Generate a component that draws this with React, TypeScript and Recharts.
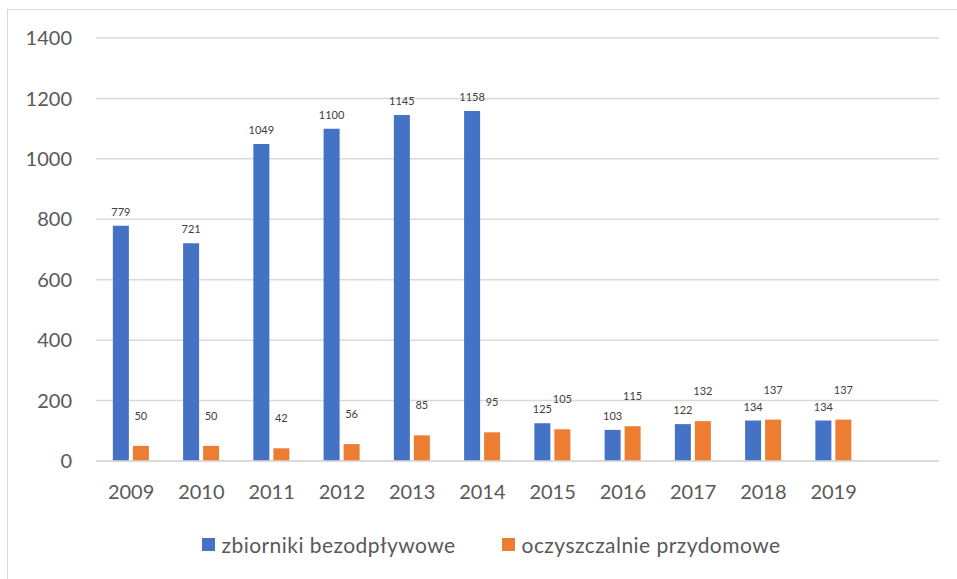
import { BarChart, Bar, XAxis, YAxis, CartesianGrid, Legend, LabelList } from "recharts";

const years = ["2009", "2010", "2011", "2012", "2013", "2014", "2015", "2016", "2017", "2018", "2019", ""];
const zbiorniki = [779, 721, 1049, 1100, 1145, 1158, 125, 103, 122, 134, 134, null];
const oczyszczalnie = [50, 50, 42, 56, 85, 95, 105, 115, 132, 137, 137, null];
const yTicks = [0, 200, 400, 600, 800, 1000, 1200, 1400];

const data = years.map((year, i) => ({
  year,
  zbiorniki: zbiorniki[i],
  oczyszczalnie: oczyszczalnie[i],
}));

const FONT = "Lato, 'Open Sans', sans-serif";
const BLUE = "#4472C4";
const ORANGE = "#ED7D31";

const legendItems = [
  { name: "zbiorniki bezodpływowe", color: BLUE },
  { name: "oczyszczalnie przydomowe", color: ORANGE },
];

const CustomLegend = () => (
  <div
    style={{
      display: "flex",
      justifyContent: "center",
      gap: 46,
      fontFamily: FONT,
      fontSize: 21,
      letterSpacing: 0.45,
      color: "#595959",
    }}
  >
    {legendItems.map((item) => (
      <div key={item.name} style={{ display: "flex", alignItems: "center", gap: 7 }}>
        <div style={{ width: 13, height: 13, background: item.color }} />
        <span>{item.name}</span>
      </div>
    ))}
  </div>
);

export default function App() {
  return (
    <div style={{ position: "absolute", left: 0, top: 0, width: 957, height: 579, overflow: "hidden", background: "#fff" }}>
      <div
        style={{
          position: "absolute",
          left: 7,
          top: 9,
          width: 960,
          height: 600,
          border: "1.5px solid #d9d9d9",
          boxSizing: "border-box",
        }}
      />
      <div style={{ position: "absolute", left: 0, top: 0 }}>
        <BarChart
          width={957}
          height={579}
          data={data}
          margin={{ top: 38, right: 18, left: 0, bottom: 33 }}
          barGap={4}
          barCategoryGap="24%"
        >
          <CartesianGrid vertical={false} stroke="#d9d9d9" strokeWidth={1.5} />
          <XAxis
            dataKey="year"
            axisLine={{ stroke: "#d9d9d9", strokeWidth: 1.5 }}
            tickLine={false}
            tickMargin={18}
            height={60}
            interval={0}
            tick={{ fontSize: 20, fill: "#595959", fontFamily: FONT }}
          />
          <YAxis
            width={96}
            domain={[0, 1400]}
            ticks={yTicks}
            axisLine={false}
            tickLine={false}
            tickMargin={18}
            tick={{ fontSize: 20, fill: "#595959", fontFamily: FONT }}
          />
          <Legend
            content={<CustomLegend />}
            wrapperStyle={{ position: "absolute", top: 532, left: 22, width: 938 }}
          />
          <Bar dataKey="zbiorniki" name="zbiorniki bezodpływowe" fill={BLUE} isAnimationActive={false}>
            <LabelList dataKey="zbiorniki" position="top" offset={10} style={{ fontSize: 11, fill: "#404040", fontFamily: FONT }} />
          </Bar>
          <Bar dataKey="oczyszczalnie" name="oczyszczalnie przydomowe" fill={ORANGE} isAnimationActive={false}>
            <LabelList dataKey="oczyszczalnie" position="top" offset={26} style={{ fontSize: 11, fill: "#404040", fontFamily: FONT }} />
          </Bar>
        </BarChart>
      </div>
    </div>
  );
}
